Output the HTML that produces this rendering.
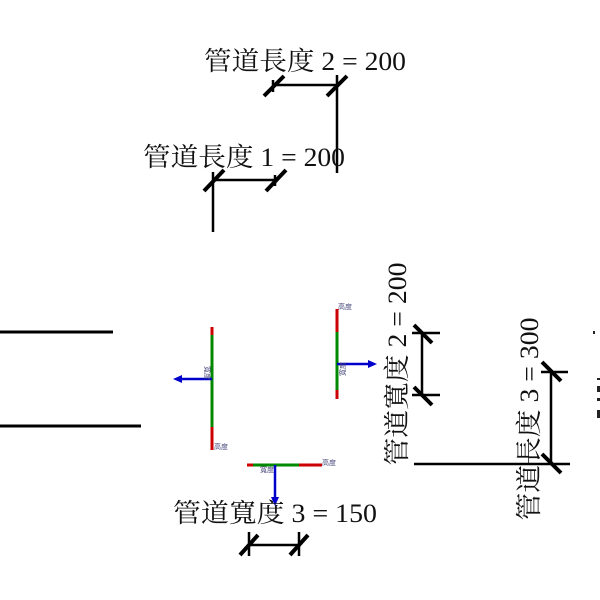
<!DOCTYPE html>
<html><head><meta charset="utf-8"><style>
html,body{margin:0;padding:0;background:#fff;width:600px;height:600px;overflow:hidden}
text{font-family:"Liberation Serif","Noto Serif CJK SC","Noto Sans CJK TC",serif;fill:#111}
.s{font-family:"Liberation Sans","Noto Sans CJK TC",sans-serif;fill:#44447a;font-size:7px}
</style></head><body>
<svg width="600" height="600" viewBox="0 0 600 600" xmlns="http://www.w3.org/2000/svg">
<g stroke="#000" fill="none">
<!-- dim 2 top -->
<line x1="273" y1="85" x2="336" y2="85" stroke-width="2.5"/>
<line x1="273" y1="80" x2="273" y2="92" stroke-width="2.5"/>
<line x1="264" y1="96" x2="284" y2="76" stroke-width="4"/>
<line x1="327" y1="96" x2="347" y2="76" stroke-width="4"/>
<line x1="337" y1="75" x2="337" y2="173" stroke-width="2.5"/>
<!-- dim 1 -->
<line x1="213" y1="180" x2="275" y2="180" stroke-width="2.5"/>
<line x1="275" y1="175" x2="275" y2="186" stroke-width="2.5"/>
<line x1="204" y1="191" x2="224" y2="170" stroke-width="4"/>
<line x1="266" y1="191" x2="286" y2="170" stroke-width="4"/>
<line x1="213" y1="172" x2="213" y2="232" stroke-width="2.5"/>
<!-- left lines -->
<line x1="0" y1="332" x2="113" y2="332" stroke-width="3"/>
<line x1="0" y1="426" x2="141" y2="426" stroke-width="3"/>
<!-- dim 3 bottom -->
<line x1="249" y1="545" x2="299" y2="545" stroke-width="2.5"/>
<line x1="249" y1="532" x2="249" y2="556" stroke-width="2.5"/>
<line x1="299" y1="532" x2="299" y2="556" stroke-width="2.5"/>
<line x1="240" y1="555" x2="258" y2="535" stroke-width="4"/>
<line x1="290" y1="555" x2="308" y2="535" stroke-width="4"/>
<!-- width 2 right -->
<line x1="422" y1="333" x2="422" y2="395" stroke-width="2.5"/>
<line x1="412" y1="333" x2="440" y2="333" stroke-width="2.5"/>
<line x1="412" y1="395" x2="440" y2="395" stroke-width="2.5"/>
<line x1="414" y1="325" x2="432" y2="343" stroke-width="4"/>
<line x1="414" y1="387" x2="432" y2="405" stroke-width="4"/>
<!-- length 3 -->
<line x1="551" y1="372" x2="551" y2="464" stroke-width="2.5"/>
<line x1="541" y1="372" x2="568" y2="372" stroke-width="2.5"/>
<line x1="414" y1="464" x2="570" y2="464" stroke-width="2.5"/>
<line x1="542" y1="362" x2="561" y2="381" stroke-width="4"/>
<line x1="542" y1="454" x2="561" y2="473" stroke-width="4"/>
</g>
<!-- element A -->
<line x1="212" y1="327" x2="212" y2="450" stroke="#c00" stroke-width="3"/>
<line x1="212" y1="335" x2="212" y2="427" stroke="#080" stroke-width="3"/>
<line x1="212" y1="379" x2="180" y2="379" stroke="#0000cc" stroke-width="2.5"/>
<polygon points="173,379 182,375 182,383" fill="#0000cc"/>
<text class="s" transform="translate(205,366) rotate(90)">寬度</text>
<text class="s" x="214" y="449">高度</text>
<!-- element B -->
<line x1="337" y1="309" x2="337" y2="399" stroke="#c00" stroke-width="3"/>
<line x1="337" y1="332" x2="337" y2="390" stroke="#080" stroke-width="3"/>
<line x1="337" y1="364" x2="369" y2="364" stroke="#0000cc" stroke-width="2.5"/>
<polygon points="377,364 368,360 368,368" fill="#0000cc"/>
<text class="s" transform="translate(345,376) rotate(-90)">寬度</text>
<text class="s" x="338" y="309">高度</text>
<!-- element C -->
<line x1="247" y1="465" x2="322" y2="465" stroke="#c00" stroke-width="3"/>
<line x1="253" y1="465" x2="299" y2="465" stroke="#080" stroke-width="3"/>
<line x1="275" y1="465" x2="275" y2="498" stroke="#0000cc" stroke-width="2.5"/>
<polygon points="275,506 271,497 279,497" fill="#0000cc"/>
<text class="s" x="260" y="472">寬度</text>
<text class="s" x="322" y="465">高度</text>
<!-- labels -->
<text x="305" y="70" font-size="26" text-anchor="middle" textLength="202" lengthAdjust="spacingAndGlyphs">管道長度 2 = 200</text>
<text x="244" y="166" font-size="26" text-anchor="middle" textLength="202" lengthAdjust="spacingAndGlyphs">管道長度 1 = 200</text>
<text x="275" y="522" font-size="26" text-anchor="middle" textLength="204" lengthAdjust="spacingAndGlyphs">管道寬度 3 = 150</text>
<text transform="translate(406,364) rotate(-90)" font-size="26" text-anchor="middle" textLength="203" lengthAdjust="spacingAndGlyphs">管道寬度 2 = 200</text>
<text transform="translate(538,419) rotate(-90)" font-size="26" text-anchor="middle" textLength="203" lengthAdjust="spacingAndGlyphs">管道長度 3 = 300</text>
<g fill="#222"><rect x="593" y="331" width="2" height="3"/><rect x="597" y="378" width="3" height="2"/><rect x="597" y="386" width="3" height="6"/><rect x="597" y="398" width="3" height="3"/><rect x="597" y="410" width="3" height="8"/></g>
</svg>
</body></html>
